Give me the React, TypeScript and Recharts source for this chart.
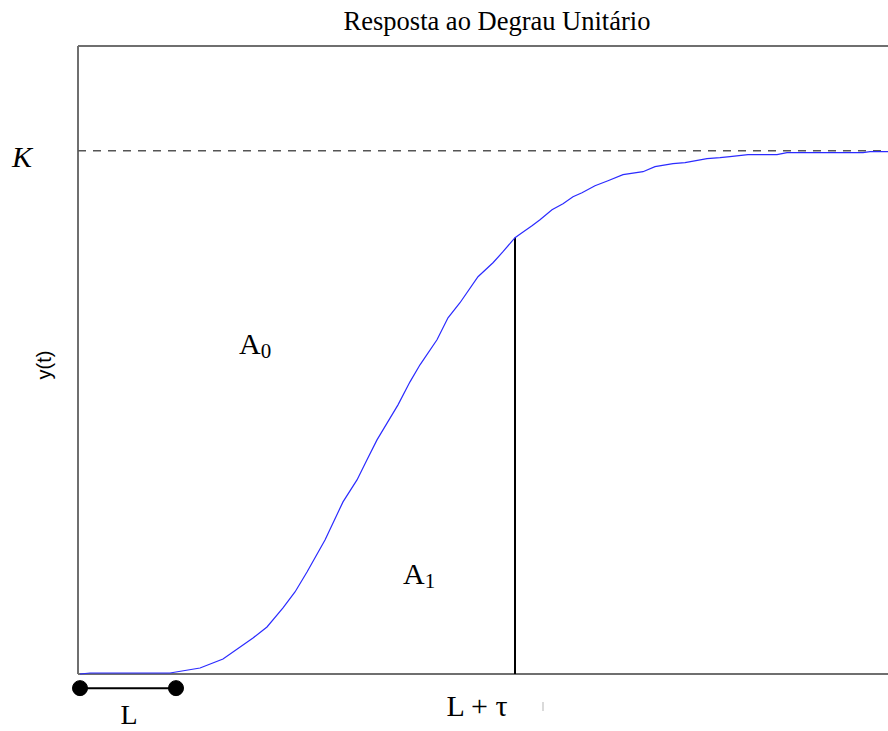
import React from "react";
import {
  ComposedChart,
  Line,
  XAxis,
  YAxis,
  ReferenceLine,
  ReferenceDot,
  Customized,
} from "recharts";

// Sampled step response y(t), normalised so the final value K = 1
const time = [
  0.02, 0.12, 0.92, 1.22, 1.45, 1.75, 1.89, 2.05, 2.17, 2.29, 2.47, 2.65, 2.79,
  2.89, 2.99, 3.05, 3.2, 3.32, 3.42, 3.59, 3.7, 3.82, 4.0, 4.15, 4.25, 4.37,
  4.44, 4.54, 4.62, 4.74, 4.85, 4.95, 5.04, 5.17, 5.3, 5.45, 5.65, 5.77, 5.95,
  6.07, 6.29, 6.42, 6.52, 6.7, 6.99, 7.09, 7.85, 7.92, 8.1,
];
const response = [
  0, 0.0019, 0.0019, 0.0115, 0.0287, 0.0688, 0.0899, 0.1262, 0.1568, 0.195,
  0.2562, 0.3289, 0.3709, 0.4092, 0.4474, 0.4665, 0.5143, 0.5583, 0.5908,
  0.6386, 0.6807, 0.7094, 0.7591, 0.7859, 0.8069, 0.8337, 0.8432, 0.8566,
  0.8681, 0.8872, 0.8987, 0.912, 0.9197, 0.9331, 0.9426, 0.9541, 0.9598,
  0.9694, 0.9751, 0.977, 0.9847, 0.9866, 0.9885, 0.9924, 0.9924, 0.9962,
  0.9962, 0.9981, 0.9981,
];

const K_LEVEL = 1;
const T_MAX = 8.1;
const Y_MAX = 1.2;
// Dead time L shown as a bracket under the axis
const DELAY_START = 0.02;
const DELAY_END = 0.98;
const BRACKET_Y = -0.027;
// Instant L + tau and the response there
const TAU_TIME = 4.37;
const TAU_VALUE = 0.8337;

const data = time.map((t, i) => ({ t, y: response[i] }));

const SERIF = '"Liberation Serif", "Times New Roman", serif';
const FRAME = "#6f6f6f";

const Annotations = () => (
  <g>
    <text x={497} y={30} textAnchor="middle" fontFamily={SERIF} fontSize={26.5} fill="#000">
      Resposta ao Degrau Unitário
    </text>
    <text x={22} y={167} textAnchor="middle" fontFamily={SERIF} fontStyle="italic" fontSize={30} fill="#000">
      K
    </text>
    <text
      x={51}
      y={365}
      textAnchor="middle"
      fontFamily='"Liberation Sans", Arial, sans-serif'
      fontSize={20}
      fill="#000"
      transform="rotate(-90 51 365)"
    >
      y(t)
    </text>
    <text x={239} y={354} fontFamily={SERIF} fontSize={30} fill="#000">
      A<tspan fontSize={21} dy={4}>0</tspan>
    </text>
    <text x={403} y={584} fontFamily={SERIF} fontSize={30} fill="#000">
      A<tspan fontSize={21} dy={4}>1</tspan>
    </text>
    <text x={129} y={724} textAnchor="middle" fontFamily={SERIF} fontSize={28} fill="#000">
      L
    </text>
    <text x={477} y={716} textAnchor="middle" fontFamily={SERIF} fontSize={30} fill="#000">
      L + τ
    </text>
    <line x1={543} y1={702} x2={543} y2={711} stroke="#b5b5b5" strokeWidth={1} />
  </g>
);

export default function App() {
  return (
    <div style={{ position: "absolute", left: 0, top: 0, background: "#fff" }}>
      <ComposedChart
        width={888}
        height={731}
        data={data}
        margin={{ top: 46, right: 0, bottom: 57, left: 78 }}
      >
        <XAxis dataKey="t" type="number" domain={[0, T_MAX]} hide />
        <YAxis type="number" domain={[0, Y_MAX]} hide />

        {/* open frame: left, top and bottom edges */}
        <ReferenceLine x={0} stroke={FRAME} strokeWidth={2} />
        <ReferenceLine y={Y_MAX} stroke={FRAME} strokeWidth={2} />
        <ReferenceLine y={0} stroke={FRAME} strokeWidth={2} />

        {/* final value K */}
        <ReferenceLine y={K_LEVEL} stroke="#555" strokeWidth={1.5} strokeDasharray="8 7" />

        {/* vertical at L + tau */}
        <ReferenceLine
          segment={[
            { x: TAU_TIME, y: 0 },
            { x: TAU_TIME, y: TAU_VALUE },
          ]}
          stroke="#000"
          strokeWidth={2}
        />

        <Line
          type="linear"
          dataKey="y"
          stroke="#2b2bff"
          strokeWidth={1.2}
          dot={false}
          isAnimationActive={false}
        />

        {/* dead-time bracket */}
        <ReferenceLine
          segment={[
            { x: DELAY_START, y: BRACKET_Y },
            { x: DELAY_END, y: BRACKET_Y },
          ]}
          stroke="#000"
          strokeWidth={2}
          ifOverflow="visible"
        />
        <ReferenceDot x={DELAY_START} y={BRACKET_Y} r={7.5} fill="#000" stroke="#000" ifOverflow="visible" />
        <ReferenceDot x={DELAY_END} y={BRACKET_Y} r={7.5} fill="#000" stroke="#000" ifOverflow="visible" />

        <Customized component={Annotations} />
      </ComposedChart>
    </div>
  );
}
